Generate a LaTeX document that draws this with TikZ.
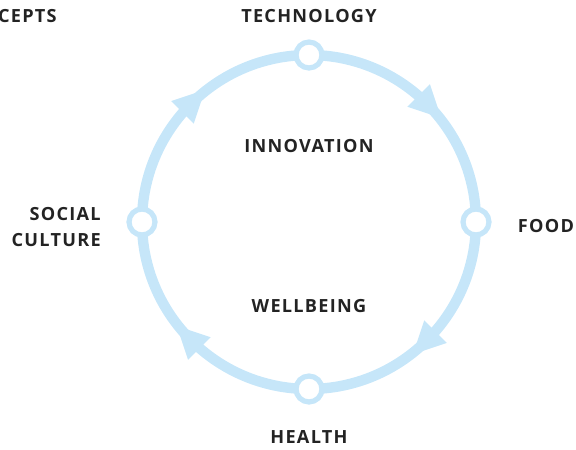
\documentclass[tikz,border=0pt]{standalone}
\usepackage{fontspec}
\setmainfont{Open Sans}
\definecolor{ringblue}{RGB}{198,230,249}
\definecolor{txt}{RGB}{35,35,35}
\tikzset{
  dot/.style={circle, draw=ringblue, fill=white, line width=3.9pt, minimum size=26*0.75pt, inner sep=0pt},
  lbl/.style={font=\bfseries\fontsize{13.6}{16}\selectfont\addfontfeature{LetterSpace=7}, text=txt, inner sep=0pt},
}
\begin{document}
\begin{tikzpicture}[x=0.75pt,y=-0.75pt]
\useasboundingbox (0,0) rectangle (576,450);
\begin{scope}[shift={(309,222)}]
\begin{scope}[x=0.75pt,y=0.75pt]
\coordinate (c) at (0,0);
\draw[ringblue, line width=7.8pt] (c) circle[radius=167];
\foreach \a in {45,-45,-135,135}{
  \fill[ringblue, rotate=\a] (151,12) -- (183,12) -- (167,-20) -- cycle;
}
\node[dot] (tech) at (90:167) {};
\node[dot] (food) at (0:167) {};
\node[dot] (health) at (-90:167) {};
\node[dot] (social) at (180:167) {};
\end{scope}
\end{scope}
\node[lbl] (ltech) at (309,16) {TECHNOLOGY};
\node[lbl] (linno) at (309,146) {INNOVATION};
\node[lbl] (lwell) at (309,306) {WELLBEING};
\node[lbl] (lhealth) at (309,437) {HEALTH};
\node[lbl] (lfood) at (546,226) {FOOD};
\node[lbl, anchor=east, align=right] (lsocial) at (101,227) {SOCIAL\\[3pt]CULTURE};
\node[lbl, anchor=east] (lcepts) at (57,16) {CEPTS};
\end{tikzpicture}
\end{document}
